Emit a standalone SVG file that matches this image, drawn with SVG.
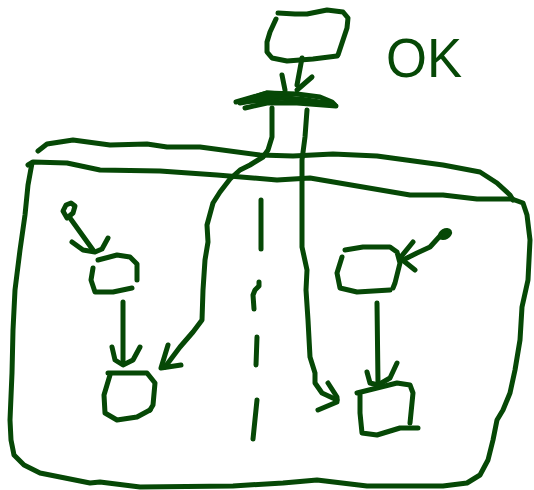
<svg xmlns="http://www.w3.org/2000/svg" width="534" height="490" viewBox="0 0 534 490">
<style>
.s{fill:none;stroke:#064806;stroke-width:5;stroke-linecap:round;stroke-linejoin:round}
.f{fill:#064806;stroke:#064806;stroke-width:3}
.t{font-family:"Liberation Sans",Arial,sans-serif;font-size:56px;fill:#064806}
</style>
<rect width="534" height="490" fill="#fff"/>
<g id="top-node">
<path class="s" d="M278,13 L295,14 L307,14 L327,10 L343,12 L348,18 L347,28 L342,43 L338,55"/>
<path class="s" d="M276,19 L270,32 L267,42 L267,52 L272,58 L287,61 L313,59 L337,56"/>
</g>
<g id="ok-label">
<text class="t" x="386" y="77" textLength="76" lengthAdjust="spacingAndGlyphs">OK</text>
</g>
<g id="container">
<path class="s" d="M38,151 L47,144 L73,140 L110,145 L147,144 L167,147 L200,147 L260,155 L293,156 L333,154 L377,156 L443,165 L480,172 L497,183 L510,195 L513,200"/>
<path class="s" d="M28,165 L33,162 L67,163 L100,170 L160,171 L217,175 L277,180 L310,178 L410,195 L443,195 L477,199 L512,199"/>
<path class="s" d="M32,163 L28,185 L25,215 L20,250 L15,290 L13,330 L12,373 L10,420 L11,440 L14,455 L24,465 L40,473 L90,483 L100,482 L140,487 L233,486 L283,483 L317,480 L367,486 L443,486 L467,483 L480,475 L488,460 L493,440 L497,420 L503,410 L510,393 L515,370 L520,340 L522,307 L528,280 L530,240 L527,215 L523,203 L512,199"/>
</g>
<g id="junction">
<path class="s" d="M236,102 L267,93 L297,94 L320,97 L332,102 L335,105"/>
<path class="s" d="M245,108 L267,103 L297,103 L336,106"/>
<path class="s" d="M240,103 L270,98 L300,99 L333,104"/>
<path class="f" d="M236,102 L267,92 L297,94 L270,102 Z"/>
</g>
<g id="divider">
<path class="s" d="M261,200 L261,249"/>
<path class="s" d="M259,282 L259,286 L255,290 L253,295 L254,309"/>
<path class="s" d="M257,337 L256,365"/>
<path class="s" d="M257,400 L253,439"/>
</g>
<g id="left-start">
<path class="s" d="M67,218 L63,211 L66,205 L71,203 L75,206 L73,213 L67,218"/>
</g>
<g id="left-box1">
<path class="s" d="M98,260 L117,255 L130,257 L137,264 L137,280"/>
<path class="s" d="M93,268 L91,280 L95,292 L113,292 L132,288"/>
</g>
<g id="left-box2">
<path class="s" d="M108,373 L147,373 L155,383 L153,405 L150,410"/>
<path class="s" d="M110,375 L104,395 L105,413 L117,420 L137,417 L150,410"/>
</g>
<g id="right-start">
<ellipse class="f" cx="445" cy="234" rx="6" ry="4" transform="rotate(-30 445 234)"/>
</g>
<g id="right-box1">
<path class="s" d="M345,250 L363,247 L390,247 L397,252 L400,263 L395,283 L393,288"/>
<path class="s" d="M342,257 L337,273 L340,288 L357,292 L390,290"/>
</g>
<g id="right-box2">
<path class="s" d="M357,393 L377,388 L397,383 L410,385 L413,393 L410,423"/>
<path class="s" d="M360,395 L360,413 L362,433 L377,435 L400,428 L418,428"/>
</g>
<g id="connectors">
<path class="s" d="M302,58 L297,85"/>
<path class="s" d="M282,75 L285,90"/>
<path class="s" d="M312,77 L297,90"/>
<path class="s" d="M272,108 L272,137 L268,150 L263,157 L250,165 L240,170 L230,179 L220,192 L213,203 L207,225 L208,242 L205,260 L203,290 L202,320 L193,332 L180,347 L165,367"/>
<path class="s" d="M168,345 L161,368 L181,365"/>
<path class="s" d="M307,110 L305,137 L302,160 L302,220 L302,247 L307,270 L306,290 L308,320 L310,357 L315,373 L315,383 L322,393 L337,400"/>
<path class="s" d="M328,383 L337,397 L337,402 L318,410"/>
<path class="s" d="M70,218 L93,250"/>
<path class="s" d="M72,242 L83,250 L95,252 L102,249 L108,238"/>
<path class="s" d="M123,302 L123,363"/>
<path class="s" d="M112,347 L115,360 L123,365 L133,360 L140,347"/>
<path class="s" d="M440,236 L430,247 L417,253 L403,260"/>
<path class="s" d="M413,242 L400,258 L415,270"/>
<path class="s" d="M377,303 L378,383"/>
<path class="s" d="M367,372 L370,383 L378,385 L390,378 L397,363"/>
</g>
</svg>
